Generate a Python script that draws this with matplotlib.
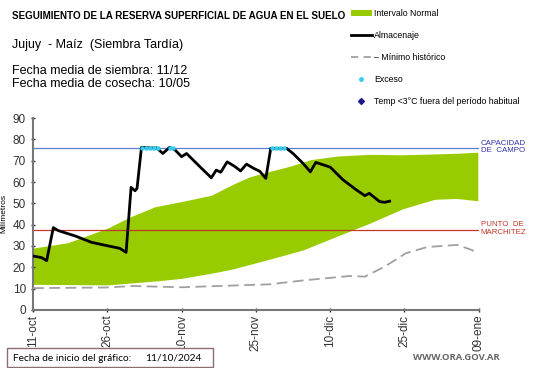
import matplotlib
matplotlib.use("Agg")
import matplotlib.pyplot as plt
from matplotlib.lines import Line2D
from matplotlib.patches import Patch, Rectangle
import numpy as np

plt.rcParams['font.family'] = ['Liberation Sans', 'DejaVu Sans']

# ---- data (day 0 = 11-oct-2024) ----
band_days = [0, 7, 15, 19.5, 24.6, 30.3, 36, 40.4, 43.8, 47.8, 52, 56, 61.4, 68, 74.7, 81.4, 85.5, 89.8]
band_upper = [29, 31.5, 38.3, 43.5, 48.4, 51.0, 53.8, 59.0, 62.5, 65.0, 67.5, 70.5, 72.2, 73.0, 72.8, 73.2, 73.5, 74.0]
band_lower_days = [0, 15, 25.5, 30, 36, 40, 47.8, 54.5, 61.2, 67.9, 74.7, 81.1, 85.5, 89.8]
band_lower = [12, 11.7, 13.7, 14.8, 17.2, 19.0, 23.8, 28.1, 34.4, 40.6, 47.5, 51.9, 52.3, 51.2]

min_days = [0, 15, 20, 30, 47.8, 54.5, 64, 67, 71, 75.3, 79.6, 85.7, 90]
min_vals = [10.2, 10.5, 11.2, 10.6, 12.0, 13.8, 15.9, 15.6, 20.3, 26.6, 29.5, 30.5, 26.9]

alm_days = [0, 1.75, 2.76, 4.1, 5.1, 8.5, 11.8, 15.2, 17.5, 18.8, 19.8, 20.6, 21.0, 21.9,
            23.6, 25.0, 26.2, 27.6, 28.7, 30.0, 31.0, 33.7, 36.0, 37.0, 37.9, 39.2, 40.8,
            41.9, 43.1, 44.5, 45.8, 47.0, 48.0, 51.2, 52.5, 54.5, 56.0, 57.1, 60.0, 62.6,
            65.3, 67.0, 67.9, 70.0, 71.0, 72.0]
alm_vals = [25.3, 24.5, 23.1, 38.6, 37.2, 34.7, 31.7, 30.0, 28.9, 27.0, 57.5, 55.9, 57.0, 76.3,
            76.0, 76.0, 73.4, 76.3, 75.0, 71.9, 73.4, 67.2, 62.0, 65.6, 64.6, 69.5, 67.2,
            65.2, 68.4, 66.5, 65.0, 61.7, 75.8, 75.8, 73.4, 68.8, 64.8, 69.2, 67.0, 61.0,
            56.3, 53.6, 54.7, 50.8, 50.5, 51.0]

exc_days = [22.0, 22.8, 23.6, 24.4, 25.2, 27.6, 28.3, 48.2, 49.0, 49.8, 50.6]
exc_vals = [76.2, 76.0, 76.0, 76.0, 76.0, 76.2, 76.0, 76.0, 76.0, 76.0, 76.0]

capacidad = 75.8
marchitez = 37.3

tick_days = [0, 15, 30, 45, 60, 75, 90]
tick_labels = ['11-oct', '26-oct', '10-nov', '25-nov', '10-dic', '25-dic', '09-ene']

W, H = 541, 368
fig = plt.figure(figsize=(5.41, 3.68), dpi=100)
ax = fig.add_axes([0.061, 0.158, 0.824, 0.521])

green = '#99cc00'
xs = np.linspace(0, 89.8, 300)
up = np.interp(xs, band_days, band_upper)
lo = np.interp(xs, band_lower_days, band_lower)
ax.fill_between(xs, lo, up, color=green, lw=0, zorder=1)

ax.axhline(capacidad, color='#5b7fd6', lw=0.9, zorder=2)
ax.axhline(marchitez, color='#c0392b', lw=0.9, zorder=2)

ax.plot(min_days, min_vals, color='#a0a0a0', lw=1.3, dashes=(6, 3), zorder=3)
ax.plot(alm_days, alm_vals, color='black', lw=2.0, zorder=4)
ax.plot(exc_days, exc_vals, ls='none', marker='o', ms=2.2, color='#33ccee', zorder=5)

ax.set_xlim(0, 90)
ax.set_ylim(0, 90)
ax.set_yticks(range(0, 91, 10))
ax.set_xticks(tick_days)
ax.set_xticklabels(tick_labels, rotation=90)
ax.tick_params(axis='both', labelsize=8.5, colors='#333333', length=3, width=1, direction='inout')
ax.tick_params(axis='x', pad=2)
for s in ['top', 'right']:
    ax.spines[s].set_visible(False)
for s in ['left', 'bottom']:
    ax.spines[s].set_color('#777777')
    ax.spines[s].set_linewidth(1.5)
ax.set_ylabel('Milímetros', fontsize=6, labelpad=4)

ax.text(90.4, capacidad + 0.6, 'CAPACIDAD\nDE  CAMPO', color='#3333aa', fontsize=5.7,
        va='center', ha='left', linespacing=1.15, clip_on=False)
ax.text(90.4, marchitez + 1.0, 'PUNTO  DE\nMARCHITEZ', color='#c0392b', fontsize=5.7,
        va='center', ha='left', linespacing=1.15, clip_on=False)

# titles
fig.text(12 / W, 1 - 16 / H, 'SEGUIMIENTO DE LA RESERVA SUPERFICIAL DE AGUA EN EL SUELO',
         fontsize=7.15, fontweight='bold', va='center', ha='left')
fig.text(12 / W, 1 - 45 / H, 'Jujuy  - Maíz  (Siembra Tardía)', fontsize=9, va='center', ha='left')
fig.text(12 / W, 1 - 71 / H, 'Fecha media de siembra: 11/12', fontsize=9, va='center', ha='left')
fig.text(12 / W, 1 - 84 / H, 'Fecha media de cosecha: 10/05', fontsize=9, va='center', ha='left')

# legend
handles = [Patch(facecolor=green, edgecolor='none'),
           Line2D([], [], color='black', lw=2),
           Line2D([], [], color='#a0a0a0', lw=1.3, dashes=(4, 3)),
           Line2D([], [], ls='none', marker='o', ms=2.5, color='#33ccee'),
           Line2D([], [], ls='none', marker='D', ms=3, color='#1a1a8c')]
labels = ['Intervalo Normal', 'Almacenaje', '– Mínimo histórico', 'Exceso',
          'Temp <3°C fuera del período habitual']
fig.legend(handles, labels, loc='upper left', bbox_to_anchor=(349 / W, 1 - 7 / H),
           frameon=False, fontsize=6.3, labelspacing=1.5, handlelength=2.4,
           handletextpad=0.25, borderaxespad=0, borderpad=0.2)

# bottom box
fig.add_artist(Rectangle((6.7 / W, 1 - 367.3 / H), 206 / W, 19 / H, transform=fig.transFigure,
                         facecolor='white', edgecolor='#8c6e6e', lw=1))
fig.text(12.7 / W, 1 - 358.3 / H, 'Fecha de inicio del gráfico:', fontsize=7.3,
         family=['Lato', 'DejaVu Sans'], va='center', ha='left')
fig.text(145 / W, 1 - 358.3 / H, '11/10/2024', fontsize=7.3,
         family=['Lato', 'DejaVu Sans'], va='center', ha='left')
fig.text(500 / W, 1 - 358 / H, 'WWW.ORA.GOV.AR', fontsize=6.8, color='#666666',
         fontweight='bold', family=['Open Sans', 'DejaVu Sans'], va='center', ha='right')

fig.savefig('out.png', dpi=100)
